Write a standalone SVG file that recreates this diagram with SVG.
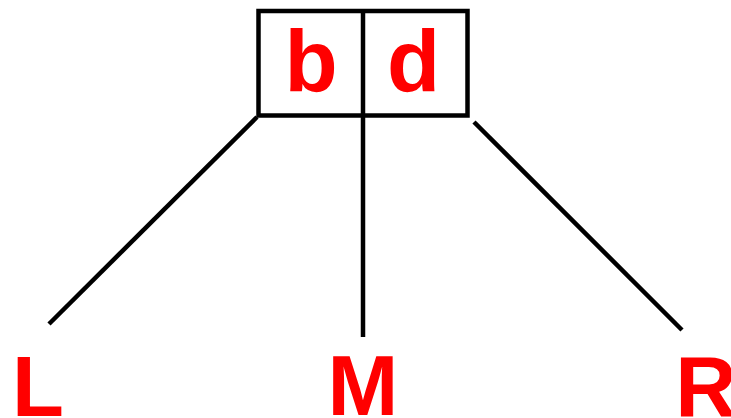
<svg xmlns="http://www.w3.org/2000/svg" width="731" height="418" viewBox="0 0 731 418">
<style>
.s{stroke:#000;stroke-width:4.5;fill:none}
.t{font-family:"Liberation Sans",Arial,sans-serif;font-weight:bold;fill:#ff0000;text-anchor:middle}
</style>
<rect width="731" height="418" fill="#fff"/>
<g id="node-bd">
<rect class="s" x="258.5" y="11" width="209" height="104.5"/>
<line class="s" x1="363" y1="9" x2="363" y2="117"/>
<text class="t" x="311" y="91" font-size="87">b</text>
<text class="t" x="413.5" y="91" font-size="87">d</text>
</g>
<g id="node-L"><text class="t" x="38" y="416" font-size="85">L</text></g>
<g id="node-M"><text class="t" x="363" y="415" font-size="85">M</text></g>
<g id="node-R"><text class="t" x="706" y="416" font-size="85">R</text></g>
<g id="connectors">
<line class="s" x1="257" y1="117" x2="49" y2="324"/>
<line class="s" x1="363" y1="115" x2="363" y2="337"/>
<line class="s" x1="474" y1="122" x2="682" y2="330"/>
</g>
</svg>
